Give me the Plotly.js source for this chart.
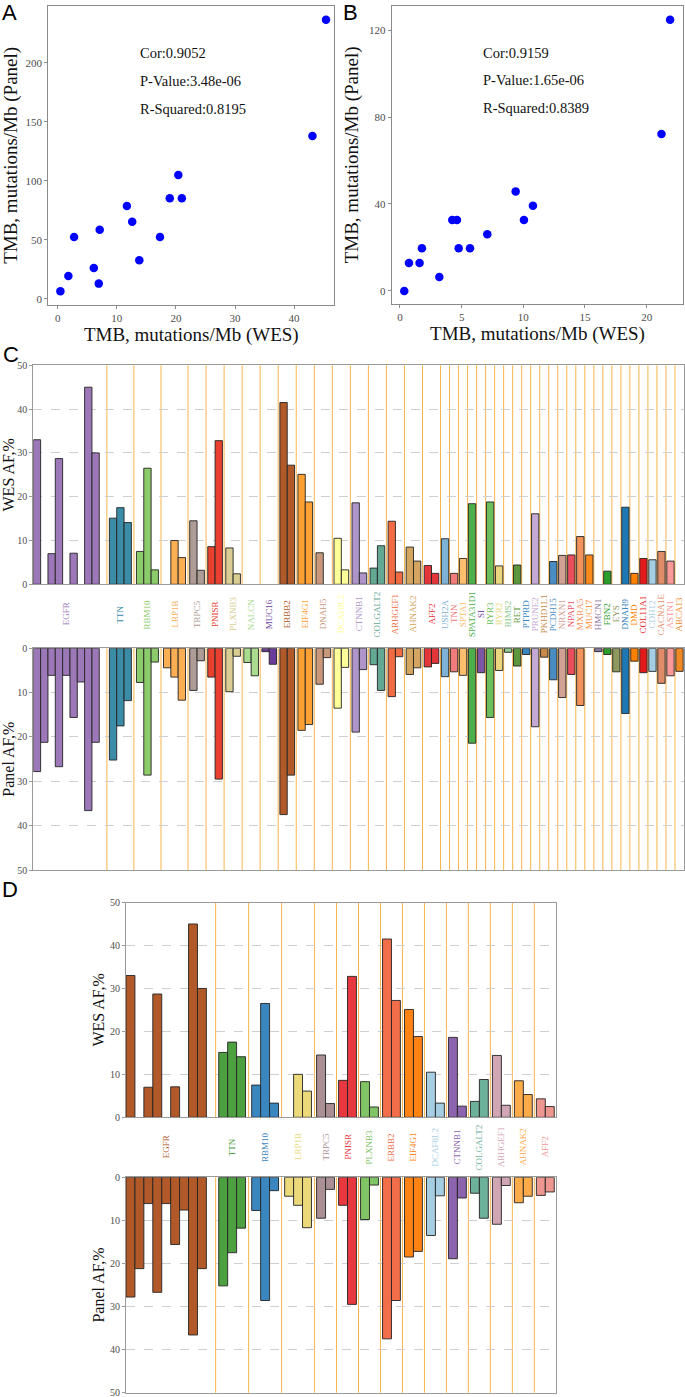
<!DOCTYPE html>
<html>
<head>
<meta charset="utf-8">
<script src="https://cdn.plot.ly/plotly-3.0.1.min.js"></script>
<style>html,body{margin:0;padding:0;background:#fff;}#chart{width:685px;height:1397px;}</style>
</head>
<body>
<div id="chart"></div>
<script>
// ---------- Panel A data ----------
const wesTmbA   = [0.45, 1.8, 2.76, 6.1, 6.94, 7.1, 11.7, 12.6, 13.8, 17.3, 18.96, 20.4, 21.0, 43.1, 45.4];
const panelTmbA = [6.5, 19.5, 52.5, 26.2, 13.0, 58.7, 78.7, 65.4, 32.7, 52.5, 85.2, 104.9, 85.2, 137.9, 236.4];
const statsA = ['Cor:0.9052', 'P-Value:3.48e-06', 'R-Squared:0.8195'];

// ---------- Panel B data ----------
const wesTmbB   = [0.35, 0.73, 1.59, 1.78, 3.19, 4.24, 4.62, 4.76, 5.68, 7.08, 9.38, 10.05, 10.78, 21.2, 21.9];
const panelTmbB = [0, 12.9, 12.9, 19.6, 6.4, 32.6, 32.6, 19.6, 19.6, 26.1, 45.8, 32.6, 39.2, 72.2, 124.7];
const statsB = ['Cor:0.9159', 'P-Value:1.65e-06', 'R-Squared:0.8389'];

// ---------- Panel C data (per gene, one value per sample slot; 0 = no bar) ----------
const genesC = ['EGFR','TTN','RBM10','LRP1B','TRPC5','PNISR','PLXNB3','NALCN','MUC16','ERBB2','EIF4G1','DNAH5',
  'DCAF8L2','CTNNB1','COLGALT2','ARHGEF1','AHNAK2','AFF2','USH2A','TNN','SPTA1','SPATA31D1','SI','RYR3','RYR2',
  'RIMS2','RET','PTPRD','PRUNE2','PKHD1L1','PCDH15','NRXN1','NPAP1','MXRA5','MUC17','HMCN1','FBN2','EYS','DNAH9',
  'DMD','COL11A1','CDH12','CACNA1E','ASTN1','ABCA13'];
const wesAF = [
  [33,0,7,28.7,0,7.1,0,45,30],[15.1,17.5,14.1],[7.5,26.5,3.3],[0,10,6.1],[14.5,3.2],[8.6,32.8],[8.3,2.4],[0,0],[0,0],
  [41.5,27.2],[25.1,18.8],[7.2,0],[10.5,3.3],[18.6,2.6],[3.7,8.8],[14.4,2.8],[8.5,5.3],[4.3,2.5],
  [10.4],[2.5],[5.9],[18.4],[0],[18.8],[4.2],[0],[4.4],[0],[16.1],[0],[5.2],[6.6],[6.7],[10.9],[6.7],[0],[3.0],[0],
  [17.6],[2.5],[5.9],[5.6],[7.5],[5.3],[0]
];
const panelAF = [
  [27.8,21.2,6.1,26.7,6.1,15.6,7.6,36.6,21.2],[25.2,17.5,11.8],[7.7,28.6,3.1],[4.4,6.5,11.7],[9.5,2.8],[6.5,29.5],[9.8,1.8],[3.2,6.2],[0.75,3.6],
  [37.5,28.6],[18.5,17.2],[8.1,2.1],[13.5,4.3],[18.9,4.8],[3.7,9.5],[10.9,1.9],[5.9,4.4],[4.2,3.4],
  [6.4],[5.3],[6.1],[21.4],[5.5],[15.6],[5.0],[0.9],[4.0],[1.4],[17.7],[2.0],[7.1],[11.1],[5.9],[12.9],[0],[0.75],[1.4],[5.3],
  [14.7],[2.9],[5.5],[5.2],[7.9],[6.2],[5.2]
];
const colorsC = ['#9C78B9','#3A8CA7','#8CCB69','#FCAE55','#AE9C97','#E8412F','#D9CD91','#A9DC8C','#6A3D9A',
  '#B15928','#FFA032','#C9977A','#FFFF99','#AE94C9','#63A892','#F06B42','#D4A55E','#E3363A','#7DB2D6','#F27B7B',
  '#FDBE6E','#4DAF4A','#7D55A5','#6ABF5A','#E9D67D','#8ECB8E','#5C973D','#3585C2','#C3A9D3','#C88A4A','#4A8DC2',
  '#D1A194','#E94E5C','#F3925A','#FF8A1C','#8C76A5','#2A9D2A','#8D9A5F','#1F78B4','#FF7F00','#E31A1C','#A6CEE3',
  '#E08C68','#FA9898','#F08826'];

// ---------- Panel D data (subset of genes) ----------
const genesD = ['EGFR','TTN','RBM10','LRP1B','TRPC5','PNISR','PLXNB3','ERBB2','EIF4G1','DCAF8L2','CTNNB1','COLGALT2','ARHGEF1','AHNAK2','AFF2'];
const colorsD = ['#B15928','#4DA040','#3A87C0','#EBD97A','#AA8F94','#E8383F','#80C465','#F26D4A','#FF8312',
  '#A6CEE3','#8C63AD','#6DB19A','#D0A6B5','#FDAA48','#EE9690'];

// ---------- helpers ----------
const W = 685, H = 1397;
const px = v => v / W;
const py = v => 1 - v / H;
const SERIF = 'Liberation Serif, Times New Roman, serif';
const SANS = 'Liberation Sans, Arial, sans-serif';

function buildGroups(genes, wesArr, panArr, colors) {
  let cur = 0;
  const xs = [], wes = [], pan = [], cols = [], centers = [], bounds = [];
  genes.forEach((g, i) => {
    const n = wesArr[i].length;
    const pad = 0.115 * n;
    const start = cur + (i === 0 ? 0 : pad);
    for (let k = 0; k < n; k++) {
      xs.push(start + k + 0.5);
      wes.push(wesArr[i][k] > 0 ? wesArr[i][k] : null);
      pan.push(panArr[i][k] > 0 ? panArr[i][k] : null);
      cols.push(colors[i]);
    }
    centers.push(start + n / 2);
    cur = start + n + pad;
    if (i < genes.length - 1) bounds.push(cur);
  });
  return {xs, wes, pan, cols, centers, bounds, total: cur};
}

const gC = buildGroups(genesC, wesAF, panelAF, colorsC);
const idxD = genesD.map(g => genesC.indexOf(g));
const gD = buildGroups(genesD, idxD.map(i => wesAF[i]), idxD.map(i => panelAF[i]), colorsD);

const barLine = {color: 'rgba(35,35,35,0.9)', width: 1};
function barTrace(g, vals, xa, ya) {
  return {type: 'bar', x: g.xs, y: vals, width: 1, xaxis: xa, yaxis: ya,
    marker: {color: g.cols, line: barLine}, hoverinfo: 'skip'};
}

const traces = [
  {type: 'scatter', mode: 'markers', x: wesTmbA, y: panelTmbA, xaxis: 'x', yaxis: 'y',
   marker: {color: '#0000FF', size: 8.5}, hoverinfo: 'skip'},
  {type: 'scatter', mode: 'markers', x: wesTmbB, y: panelTmbB, xaxis: 'x2', yaxis: 'y2',
   marker: {color: '#0000FF', size: 8.5}, hoverinfo: 'skip'},
  barTrace(gC, gC.wes, 'x3', 'y3'),
  barTrace(gC, gC.pan, 'x4', 'y4'),
  barTrace(gD, gD.wes, 'x5', 'y5'),
  barTrace(gD, gD.pan, 'x6', 'y6')
];

const tickFont = {family: SERIF, size: 11, color: '#4d4d4d'};
const smallTick = {family: SERIF, size: 10, color: '#4d4d4d'};
function scatterAxis(domain, anchor, range, dtick, title, tsize, standoff) {
  return {domain, anchor, range, dtick, showline: true, mirror: true, linecolor: '#8a8a8a', linewidth: 1,
    ticks: 'outside', ticklen: 3, tickcolor: '#8a8a8a', tickfont: tickFont, showgrid: false, zeroline: false,
    ticklabeloverflow: 'allow',
    title: {text: title, font: {family: SERIF, size: tsize, color: '#111'}, standoff}};
}
function barX(domain, anchor, total) {
  return {domain, anchor, range: [0, total], showline: true, mirror: true, linecolor: '#9a9a9a', linewidth: 1,
    showticklabels: false, ticks: '', showgrid: false, zeroline: false};
}
function barY(domain, anchor, range, title) {
  return {domain, anchor, range, dtick: 10, showline: true, mirror: true, linecolor: '#9a9a9a', linewidth: 1,
    ticks: 'outside', ticklen: 3, tickcolor: '#9a9a9a', tickfont: smallTick, showgrid: true,
    gridcolor: '#cfcfcf', griddash: 'dash', gridwidth: 1, zeroline: false, ticklabeloverflow: 'allow',
    title: {text: title, font: {family: SERIF, size: 16, color: '#111'}, standoff: 1}};
}

const layout = {
  width: W, height: H, margin: {l: 0, r: 0, t: 0, b: 0}, showlegend: false,
  paper_bgcolor: '#fff', plot_bgcolor: '#fff', bargap: 0,
  xaxis:  scatterAxis([px(48.3), px(334.3)], 'y', [-1.6, 46.8], 10, 'TMB, mutations/Mb (WES)', 19, 2),
  yaxis:  scatterAxis([py(305), py(5.7)], 'x', [-5.1, 248.3], 50, 'TMB, mutations/Mb (Panel)', 19, 5),
  xaxis2: scatterAxis([px(391.7), px(683.3)], 'y2', [-0.67, 22.97], 5, 'TMB, mutations/Mb (WES)', 19, 2),
  yaxis2: scatterAxis([py(304), py(5.7)], 'x2', [-6, 131.2], 40, 'TMB, mutations/Mb (Panel)', 19, 5),
  xaxis3: barX([px(33.3), px(684)], 'y3', gC.total),
  yaxis3: barY([py(584.3), py(365.3)], 'x3', [0, 50], 'WES AF,%'),
  xaxis4: barX([px(33.3), px(684)], 'y4', gC.total),
  yaxis4: barY([py(870), py(648.3)], 'x4', [50, 0], 'Panel AF,%'),
  xaxis5: barX([px(126), px(556.3)], 'y5', gD.total),
  yaxis5: barY([py(1117.3), py(902.5)], 'x5', [0, 50], 'WES AF,%'),
  xaxis6: barX([px(126), px(556.3)], 'y6', gD.total),
  yaxis6: barY([py(1392.7), py(1177.3)], 'x6', [50, 0], 'Panel AF,%'),
  shapes: [], annotations: []
};

// gene separators
const sepLine = {color: '#F7B548', width: 1};
[['x3','y3'],['x4','y4']].forEach(([xa, ya]) => gC.bounds.forEach(b => layout.shapes.push(
  {type: 'line', xref: xa, yref: ya + ' domain', x0: b, x1: b, y0: 0, y1: 1, line: sepLine, layer: 'below'})));
[['x5','y5'],['x6','y6']].forEach(([xa, ya]) => gD.bounds.forEach(b => layout.shapes.push(
  {type: 'line', xref: xa, yref: ya + ' domain', x0: b, x1: b, y0: 0, y1: 1, line: sepLine, layer: 'below'})));

// gene labels
genesC.forEach((g, i) => layout.annotations.push({text: g, x: gC.centers[i], xref: 'x3', y: py(614), yref: 'paper',
  textangle: -90, showarrow: false, xanchor: 'center', yanchor: 'middle',
  font: {family: SERIF, size: 9, color: colorsC[i]}}));
genesD.forEach((g, i) => layout.annotations.push({text: g, x: gD.centers[i], xref: 'x5', y: py(1147), yref: 'paper',
  textangle: -90, showarrow: false, xanchor: 'center', yanchor: 'middle',
  font: {family: SERIF, size: 9, color: colorsD[i]}}));

// stats text
const statY = [0.874, 0.782, 0.688];
statsA.forEach((t, i) => layout.annotations.push({text: t, xref: 'x domain', yref: 'y domain', x: 0.3126, y: statY[i],
  showarrow: false, font: {family: SERIF, size: 14.5, color: '#111'}}));
statsB.forEach((t, i) => layout.annotations.push({text: t, xref: 'x2 domain', yref: 'y2 domain', x: 0.305, y: statY[i] + 0.002,
  showarrow: false, font: {family: SERIF, size: 14.5, color: '#111'}}));

// panel letters
[['A', 0, 12], ['B', 341, 12], ['C', 1, 354.5], ['D', 0, 889]].forEach(([t, x, y]) => layout.annotations.push({
  text: t, xref: 'paper', yref: 'paper', x: px(x), y: py(y), xanchor: 'left', yanchor: 'middle', showarrow: false,
  font: {family: SANS, size: 22, color: '#000'}}));

Plotly.newPlot('chart', traces, layout, {staticPlot: true, displayModeBar: false});
</script>
</body>
</html>
